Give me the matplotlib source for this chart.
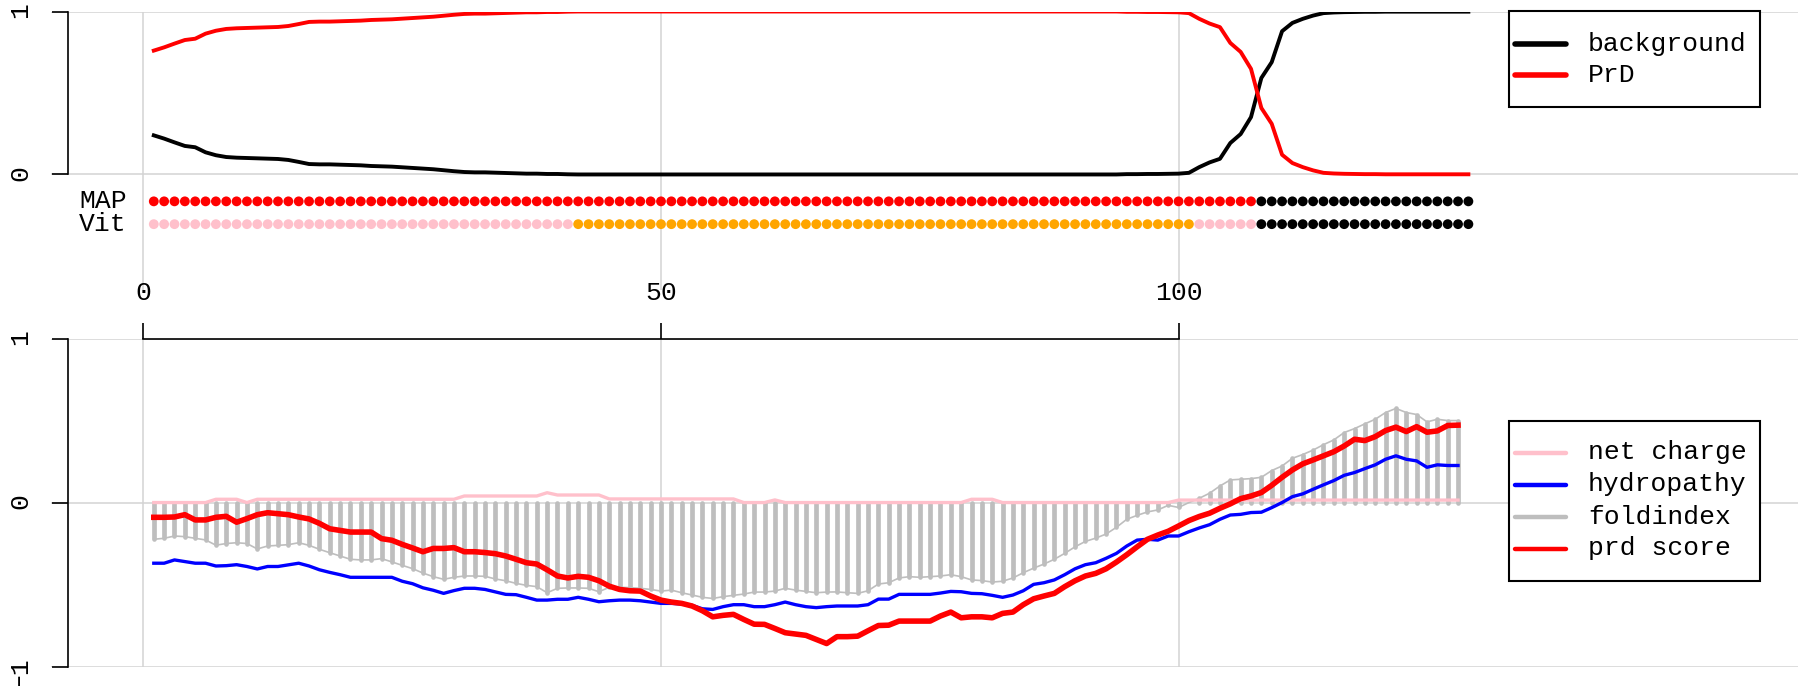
import numpy as np
import matplotlib
matplotlib.use('Agg')
import matplotlib.pyplot as plt
from matplotlib.lines import Line2D
from matplotlib.patches import Rectangle

plt.rcParams['font.family'] = ['Liberation Mono', 'DejaVu Sans Mono']

# ---- data ----
# posterior probabilities per residue (top panel)
prd_prob = [
    0.760, 0.780, 0.803, 0.825, 0.833, 0.864, 0.882, 0.893, 0.897, 0.899,
    0.901, 0.903, 0.905, 0.911, 0.923, 0.936, 0.938, 0.938, 0.940, 0.942,
    0.944, 0.948, 0.950, 0.952, 0.956, 0.960, 0.964, 0.968, 0.974, 0.980,
    0.985, 0.987, 0.987, 0.989, 0.991, 0.993, 0.995, 0.995, 0.997, 0.997,
    0.999, 1.000, 1.000, 1.000, 1.000, 1.000, 1.000, 1.000, 1.000, 1.000,
    1.000, 1.000, 1.000, 1.000, 1.000, 1.000, 1.000, 1.000, 1.000, 1.000,
    1.000, 1.000, 1.000, 1.000, 1.000, 1.000, 1.000, 1.000, 1.000, 1.000,
    1.000, 1.000, 1.000, 1.000, 1.000, 1.000, 1.000, 1.000, 1.000, 1.000,
    1.000, 1.000, 1.000, 1.000, 1.000, 1.000, 1.000, 1.000, 1.000, 1.000,
    1.000, 1.000, 1.000, 1.000, 0.998, 0.998, 0.997, 0.997, 0.996, 0.995,
    0.990, 0.955, 0.926, 0.904, 0.807, 0.752, 0.648, 0.408, 0.311, 0.121,
    0.070, 0.045, 0.025, 0.010, 0.006, 0.004, 0.003, 0.002, 0.002, 0.001,
    0.001, 0.001, 0.001, 0.001, 0.001, 0.001, 0.001, 0.001]
background_prob = [
    0.240, 0.220, 0.197, 0.175, 0.167, 0.136, 0.118, 0.107, 0.103, 0.101,
    0.099, 0.097, 0.095, 0.089, 0.077, 0.064, 0.062, 0.062, 0.060, 0.058,
    0.056, 0.052, 0.050, 0.048, 0.044, 0.040, 0.036, 0.032, 0.026, 0.020,
    0.015, 0.013, 0.013, 0.011, 0.009, 0.007, 0.005, 0.005, 0.003, 0.003,
    0.001, 0.000, 0.000, 0.000, 0.000, 0.000, 0.000, 0.000, 0.000, 0.000,
    0.000, 0.000, 0.000, 0.000, 0.000, 0.000, 0.000, 0.000, 0.000, 0.000,
    0.000, 0.000, 0.000, 0.000, 0.000, 0.000, 0.000, 0.000, 0.000, 0.000,
    0.000, 0.000, 0.000, 0.000, 0.000, 0.000, 0.000, 0.000, 0.000, 0.000,
    0.000, 0.000, 0.000, 0.000, 0.000, 0.000, 0.000, 0.000, 0.000, 0.000,
    0.000, 0.000, 0.000, 0.000, 0.002, 0.002, 0.003, 0.003, 0.004, 0.005,
    0.010, 0.045, 0.074, 0.096, 0.193, 0.248, 0.352, 0.592, 0.689, 0.879,
    0.930, 0.955, 0.975, 0.990, 0.994, 0.996, 0.997, 0.998, 0.998, 0.999,
    0.999, 0.999, 0.999, 0.999, 0.999, 0.999, 0.999, 0.999]

# state parses as (state, run length)
map_runs = [('PrD', 107), ('background', 21)]
vit_runs = [('PrD', 41), ('core', 60), ('PrD', 6), ('background', 21)]

# sliding window scores (bottom panel)
net_charge = [
    0.000, 0.000, 0.000, 0.000, 0.000, 0.000, 0.020, 0.020, 0.020, 0.000,
    0.020, 0.020, 0.020, 0.020, 0.020, 0.020, 0.020, 0.020, 0.020, 0.020,
    0.020, 0.020, 0.020, 0.020, 0.020, 0.020, 0.020, 0.020, 0.020, 0.020,
    0.040, 0.040, 0.040, 0.040, 0.040, 0.040, 0.040, 0.040, 0.060, 0.046,
    0.046, 0.046, 0.046, 0.046, 0.022, 0.022, 0.022, 0.022, 0.022, 0.022,
    0.022, 0.022, 0.022, 0.022, 0.022, 0.022, 0.022, 0.000, 0.000, 0.000,
    0.016, 0.000, 0.000, 0.000, 0.000, 0.000, 0.000, 0.000, 0.000, 0.000,
    0.000, 0.000, 0.000, 0.000, 0.000, 0.000, 0.000, 0.000, 0.000, 0.020,
    0.020, 0.020, 0.000, 0.000, 0.000, 0.000, 0.000, 0.000, 0.000, 0.000,
    0.000, 0.000, 0.000, 0.000, 0.000, 0.000, 0.000, 0.000, 0.000, 0.015,
    0.015, 0.015, 0.015, 0.015, 0.015, 0.015, 0.015, 0.015, 0.015, 0.015,
    0.015, 0.015, 0.015, 0.015, 0.015, 0.015, 0.015, 0.015, 0.015, 0.015,
    0.015, 0.015, 0.015, 0.015, 0.015, 0.015, 0.015]
hydropathy = [
    -0.370, -0.370, -0.350, -0.360, -0.370, -0.370, -0.387, -0.385, -0.379, -0.390,
    -0.405, -0.390, -0.390, -0.380, -0.370, -0.387, -0.410, -0.426, -0.440, -0.456,
    -0.456, -0.456, -0.456, -0.456, -0.480, -0.495, -0.520, -0.535, -0.554, -0.537,
    -0.523, -0.523, -0.530, -0.545, -0.560, -0.562, -0.578, -0.595, -0.595, -0.590,
    -0.590, -0.578, -0.590, -0.605, -0.599, -0.595, -0.595, -0.599, -0.607, -0.615,
    -0.615, -0.619, -0.627, -0.648, -0.652, -0.635, -0.623, -0.623, -0.635, -0.635,
    -0.623, -0.607, -0.623, -0.635, -0.641, -0.635, -0.631, -0.631, -0.631, -0.623,
    -0.589, -0.589, -0.560, -0.560, -0.560, -0.560, -0.552, -0.542, -0.544, -0.554,
    -0.556, -0.566, -0.578, -0.564, -0.538, -0.499, -0.489, -0.472, -0.440, -0.404,
    -0.379, -0.367, -0.340, -0.310, -0.265, -0.229, -0.224, -0.229, -0.204, -0.204,
    -0.178, -0.155, -0.135, -0.102, -0.076, -0.072, -0.061, -0.059, -0.031, 0.000,
    0.036, 0.053, 0.081, 0.108, 0.134, 0.166, 0.183, 0.207, 0.230, 0.264,
    0.285, 0.264, 0.254, 0.215, 0.230, 0.226, 0.226]
foldindex = [
    -0.224, -0.218, -0.204, -0.208, -0.218, -0.228, -0.260, -0.250, -0.245, -0.250,
    -0.283, -0.265, -0.261, -0.257, -0.245, -0.261, -0.285, -0.306, -0.326, -0.346,
    -0.350, -0.350, -0.342, -0.362, -0.383, -0.403, -0.430, -0.452, -0.468, -0.456,
    -0.448, -0.448, -0.450, -0.466, -0.477, -0.493, -0.505, -0.513, -0.550, -0.523,
    -0.521, -0.521, -0.523, -0.544, -0.517, -0.517, -0.519, -0.523, -0.530, -0.540,
    -0.534, -0.550, -0.564, -0.578, -0.585, -0.574, -0.566, -0.558, -0.546, -0.546,
    -0.540, -0.523, -0.534, -0.542, -0.550, -0.546, -0.545, -0.550, -0.554, -0.538,
    -0.497, -0.489, -0.460, -0.452, -0.456, -0.452, -0.448, -0.440, -0.452, -0.472,
    -0.476, -0.485, -0.480, -0.460, -0.428, -0.400, -0.375, -0.346, -0.310, -0.270,
    -0.237, -0.217, -0.192, -0.151, -0.102, -0.078, -0.057, -0.045, -0.017, -0.030,
    0.000, 0.026, 0.057, 0.101, 0.138, 0.142, 0.146, 0.154, 0.195, 0.223,
    0.270, 0.293, 0.320, 0.353, 0.382, 0.427, 0.451, 0.480, 0.508, 0.549,
    0.574, 0.549, 0.537, 0.492, 0.508, 0.500, 0.500]
prd_score = [
    -0.090, -0.090, -0.088, -0.074, -0.106, -0.106, -0.090, -0.084, -0.120, -0.098,
    -0.074, -0.062, -0.068, -0.074, -0.088, -0.100, -0.127, -0.160, -0.170, -0.180,
    -0.180, -0.180, -0.220, -0.230, -0.255, -0.277, -0.300, -0.280, -0.280, -0.275,
    -0.300, -0.300, -0.305, -0.312, -0.326, -0.346, -0.367, -0.375, -0.410, -0.448,
    -0.460, -0.450, -0.456, -0.477, -0.510, -0.530, -0.538, -0.540, -0.570, -0.595,
    -0.607, -0.615, -0.631, -0.660, -0.697, -0.688, -0.682, -0.713, -0.742, -0.743,
    -0.768, -0.794, -0.802, -0.810, -0.835, -0.860, -0.818, -0.818, -0.815, -0.782,
    -0.750, -0.748, -0.723, -0.723, -0.723, -0.723, -0.692, -0.668, -0.703, -0.697,
    -0.697, -0.703, -0.676, -0.668, -0.623, -0.587, -0.570, -0.554, -0.513, -0.477,
    -0.448, -0.432, -0.404, -0.363, -0.318, -0.270, -0.224, -0.198, -0.175, -0.143,
    -0.110, -0.085, -0.065, -0.035, -0.008, 0.024, 0.040, 0.061, 0.105, 0.154,
    0.199, 0.236, 0.260, 0.285, 0.310, 0.345, 0.386, 0.378, 0.402, 0.439,
    0.460, 0.433, 0.463, 0.429, 0.437, 0.470, 0.472]

# ---- styles ----
map_colors = {'PrD': 'red', 'background': 'black'}
vit_colors = {'PrD': 'pink', 'core': 'orange', 'background': 'black'}
FS = 19
GRID = '#d3d3d3'
FOLD = '#bebebe'

# ---- figure layout (pixel based) ----
W, H = 1799, 686
fig = plt.figure(figsize=(W / 100, H / 100), dpi=100)
x_lo, x_hi = -8.93, 159.94
axis_x = -7.33

ax1 = fig.add_axes([51 / W, 1 - 290 / H, 1 - 51 / W, (290 - 11.5) / H])
ax2 = fig.add_axes([51 / W, 1 - 666.5 / H, 1 - 51 / W, (666.5 - 338.6) / H])
ax1.set_ylim(-0.709, 1)
ax2.set_ylim(-1, 1)

for ax in (ax1, ax2):
    ax.set_xlim(x_lo, x_hi)
    for s in ('top', 'right', 'bottom'):
        ax.spines[s].set_visible(False)
    ax.spines['left'].set_position(('data', axis_x))
    ax.spines['left'].set_linewidth(1.2)
    ax.set_xticks([0, 50, 100])
    ax.grid(True, color=GRID, linewidth=1.1)
    ax.set_axisbelow(True)
    ax.tick_params(axis='y', direction='out', length=11.5, width=1.2,
                   pad=14, labelsize=FS, labelrotation=90)

ax1.spines['left'].set_bounds(0, 1)
ax1.set_yticks([0, 1])
ax1.set_yticklabels(['0', '1'])
ax1.tick_params(axis='x', length=0, labelbottom=False)

ax2.spines['left'].set_bounds(-1, 1)
ax2.set_yticks([-1, 0, 1])
ax2.set_yticklabels(['\u22121', '0', '1'])
ax2.spines['top'].set_visible(True)
ax2.spines['top'].set_bounds(0, 100)
ax2.spines['top'].set_linewidth(1.2)
ax2.tick_params(axis='x', bottom=False, labelbottom=False, top=True,
                labeltop=True, direction='out', length=11.5, width=1.2,
                pad=13, labelsize=FS)

# ---- top panel: posterior curves ----
pos_top = np.arange(1, len(prd_prob) + 1)
ax1.plot(pos_top, background_prob, color='black', lw=2.8, solid_joinstyle='round')
ax1.plot(pos_top, prd_prob, color='red', lw=2.8, solid_joinstyle='round')

# state rows
def run_colors(runs, cmap):
    out = []
    for state, n in runs:
        out += [cmap[state]] * n
    return out

row_y = {'MAP': -0.165, 'Vit': -0.305}
for name, runs, cmap in (('MAP', map_runs, map_colors), ('Vit', vit_runs, vit_colors)):
    cols = run_colors(runs, cmap)
    ax1.scatter(pos_top, np.full(len(cols), row_y[name]), c=cols, s=50,
                linewidths=0, zorder=3, clip_on=False)
    ax1.text(-1.6, row_y[name], name, ha='right', va='center', fontsize=FS)

# ---- bottom panel: scores ----
pos_bot = np.arange(1, len(prd_score) + 1)
bars = ax2.vlines(pos_bot, 0, foldindex, color=FOLD, lw=3.4)
bars.set_capstyle('round')
ax2.plot(pos_bot, foldindex, color=FOLD, lw=1.2)
ax2.plot(pos_bot, net_charge, color='pink', lw=2.4)
ax2.plot(pos_bot, hydropathy, color='blue', lw=2.4)
ax2.plot(pos_bot, prd_score, color='red', lw=4.0, solid_joinstyle='round')

# ---- legends (R style boxes) ----
def draw_legend(box, entries):
    x0, y0, x1, y1 = box
    fig.add_artist(Rectangle((x0 / W, 1 - y1 / H), (x1 - x0) / W, (y1 - y0) / H,
                             transform=fig.transFigure, facecolor='white',
                             edgecolor='black', lw=1.5, zorder=5))
    for label, color, lw, y in entries:
        fig.add_artist(Line2D([1515 / W, 1566 / W], [1 - y / H, 1 - y / H],
                              color=color, lw=lw, solid_capstyle='round',
                              transform=fig.transFigure, zorder=6))
        fig.text(1588 / W, 1 - y / H, label, ha='left', va='center',
                 fontsize=FS, zorder=6)

draw_legend((1509, 11.5, 1760, 107),
            [('background', 'black', 4.0, 43.5), ('PrD', 'red', 4.0, 75)])
draw_legend((1509, 420.5, 1760, 581),
            [('net charge', 'pink', 3.2, 452.5), ('hydropathy', 'blue', 3.2, 484.5),
             ('foldindex', FOLD, 3.2, 516.5), ('prd score', 'red', 3.2, 548.5)])

fig.savefig('out.png', dpi=100)
